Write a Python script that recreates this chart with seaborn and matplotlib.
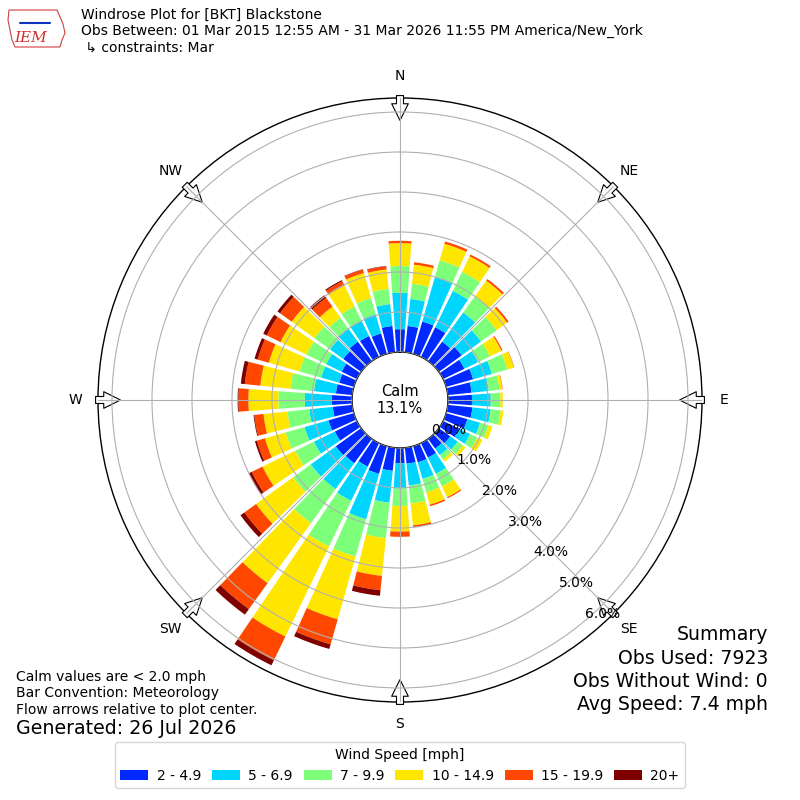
import numpy as np
import pandas as pd
import seaborn as sns
import matplotlib
matplotlib.use("Agg")
import matplotlib.pyplot as plt
from matplotlib.patches import FancyArrowPatch, Polygon

# direcoes (graus, convencao meteorologica) e frequencia (%) por classe de vento
direcoes = np.arange(0, 360, 10)
classes = ["2 - 4.9", "5 - 6.9", "7 - 9.9", "10 - 14.9", "15 - 19.9", "20+"]
rotulos_dir = ["N", "NE", "E", "SE", "S", "SW", "W", "NW"]

v_02_05 = [.57, .66, .84, .82, .60, .70, .59, .70, .60, .60, .62, .55, .45, .35, .30, .40, .42, .40,
           .38, .58, .72, .65, .75, .78, .61, .66, .49, .51, .41, .38, .42, .55, .60, .58, .53, .66]
v_05_07 = [.91, .68, 1.15, 1.01, .90, .60, .38, .49, .43, .47, .46, .33, .30, .23, .20, .45, .43, .55,
           .63, .80, 1.18, .95, .80, .77, .58, .62, .59, .67, .55, .47, .43, .41, .41, .43, .50, .55]
v_07_10 = [.67, .38, .44, .53, .50, .48, .33, .40, .27, .24, .25, .22, .20, .16, .13, .35, .35, .45,
           .44, .89, .97, 1.27, 1.05, .55, .52, .49, .55, .66, .59, .56, .55, .48, .33, .39, .42, .38]
v_10_15 = [.57, .48, .43, .43, .48, .32, .32, .17, .07, .06, .07, .10, .14, .08, .07, .30, .32, .55,
           .64, .95, 1.63, 2.50, 1.85, 1.14, .91, .54, .60, .75, .76, .80, .72, .70, .34, .58, .65, .49]
v_15_20 = [.06, .06, .06, .05, .05, .05, .03, .01, .01, 0, 0, 0, 0, 0, 0, .03, .04, .05,
           .13, .36, .65, .66, .80, .36, .30, .21, .23, .25, .39, .29, .38, .36, .27, .12, .09, .08]
v_20_mais = [0, 0, 0, 0, 0, 0, 0, 0, 0, 0, 0, 0, 0, 0, 0, 0, 0, 0,
             0, .14, .12, .14, .17, .12, .08, .05, .02, .02, .10, .08, .10, .08, .08, .03, .01, .01]

calmo = 13.1
obs_usadas = 7923
obs_sem_vento = 0
vel_media = 7.4

df = pd.DataFrame(dict(zip(classes, [v_02_05, v_05_07, v_07_10, v_10_15, v_15_20, v_20_mais])),
                  index=direcoes)

sns.set_theme(style="white")
plt.rcParams['font.family'] = ['DejaVu Sans']
plt.rcParams['text.color'] = 'black'
plt.rcParams['xtick.color'] = 'black'
plt.rcParams['ytick.color'] = 'black'
plt.rcParams['legend.labelcolor'] = 'black'
paleta = sns.color_palette(list(plt.get_cmap("jet")(np.arange(1, 7) / 6)))

fig = plt.figure(figsize=(8, 8), dpi=100)
ax = fig.add_axes([0.1225, 0.1225, 0.755, 0.755], projection="polar")
ax.set_theta_zero_location("N")
ax.set_theta_direction(-1)

# barras empilhadas por classe de velocidade
theta = np.deg2rad(df.index.values)
base = np.zeros(len(df))
barras = []
for cor, cls in zip(paleta, classes):
    b = ax.bar(theta, df[cls].values, width=np.deg2rad(8.3), bottom=base,
               color=cor, linewidth=0, label=cls, zorder=1)
    barras.append(b)
    base = base + df[cls].values

# eixo radial com circulo de calmaria no centro
ax.set_rorigin(-1.2)
ax.set_ylim(0, 6.35)
ax.set_yticks(np.arange(7))
ax.set_yticklabels([f"{v:.1f}%" for v in range(7)], fontsize=10, color="black")
ax.set_rlabel_position(140)
ax.set_thetagrids(np.arange(0, 360, 45), rotulos_dir, fontsize=10, color="black")
ax.tick_params(axis="x", pad=3)
ax.set_axisbelow(False)
ax.grid(True, color="#b0b0b0", lw=0.8)
ax.xaxis.set_zorder(6)
ax.yaxis.set_zorder(6)
ax.spines["polar"].set_color("black")
ax.spines["polar"].set_linewidth(1.0)
ax.spines["inner"].set_color("black")
ax.spines["inner"].set_linewidth(1.0)

ax.text(0.5, 0.5, f"Calm\n{calmo:.1f}%", transform=ax.transAxes, ha="center", va="center",
        fontsize=10.5, zorder=7)

# setas de fluxo nas direcoes principais
for ang in np.arange(0, 360, 45):
    t = np.deg2rad(ang)
    seta = FancyArrowPatch((t, 6.48), (t, 5.72), transform=ax.transData,
                           arrowstyle="simple,head_length=1.0,head_width=1.0,tail_width=0.42",
                           mutation_scale=12, fc="white", ec="black", lw=0.8,
                           clip_on=False, zorder=5)
    ax.add_artist(seta)

# legenda
fig.legend(handles=barras, labels=classes, loc="lower center", bbox_to_anchor=(0.5, 0.006),
           ncol=6, title="Wind Speed [mph]", fontsize=10, title_fontsize=10, frameon=True,
           handletextpad=0.6, columnspacing=0.8)

# textos
fig.text(0.101, 0.99, "Windrose Plot for [BKT] Blackstone\n"
         "Obs Between: 01 Mar 2015 12:55 AM - 31 Mar 2026 11:55 PM America/New_York\n"
         " \u21b3 constraints: Mar", ha="left", va="top", fontsize=10)
fig.text(0.02, 1 - 677 / 800, "Calm values are < 2.0 mph", ha="left", va="center", fontsize=10)
fig.text(0.02, 1 - 693 / 800, "Bar Convention: Meteorology", ha="left", va="center", fontsize=10)
fig.text(0.02, 1 - 710 / 800, "Flow arrows relative to plot center.", ha="left", va="center", fontsize=10)
fig.text(0.02, 1 - 729 / 800, "Generated: 26 Jul 2026", ha="left", va="center", fontsize=13.7)

resumo = ["Summary", f"Obs Used: {obs_usadas}", f"Obs Without Wind: {obs_sem_vento}",
          f"Avg Speed: {vel_media:.1f} mph"]
for i, linha in enumerate(resumo):
    fig.text(0.96, 1 - (635 + 23.3 * i) / 800, linha, ha="right", va="center", fontsize=13.6)

# logotipo simplificado
contorno = np.array([(9, 10), (57, 10), (60, 17), (63, 24), (65, 33), (62, 40), (60, 47),
                     (15, 47), (12, 40), (10, 30), (8, 20)])
fig.add_artist(Polygon(np.column_stack([contorno[:, 0] / 800, 1 - contorno[:, 1] / 800]),
                       closed=True, fill=False, ec="#d04040", lw=0.8, transform=fig.transFigure))
fig.add_artist(plt.Line2D([20 / 800, 50 / 800], [1 - 23 / 800, 1 - 23 / 800], color="#1030c0",
                          lw=1.5, transform=fig.transFigure))
fig.text(31 / 800, 1 - 38 / 800, "IEM", ha="center", va="center", fontsize=11,
         family="serif", style="italic", color="#d03030")

fig.savefig("out.png", dpi=100)
